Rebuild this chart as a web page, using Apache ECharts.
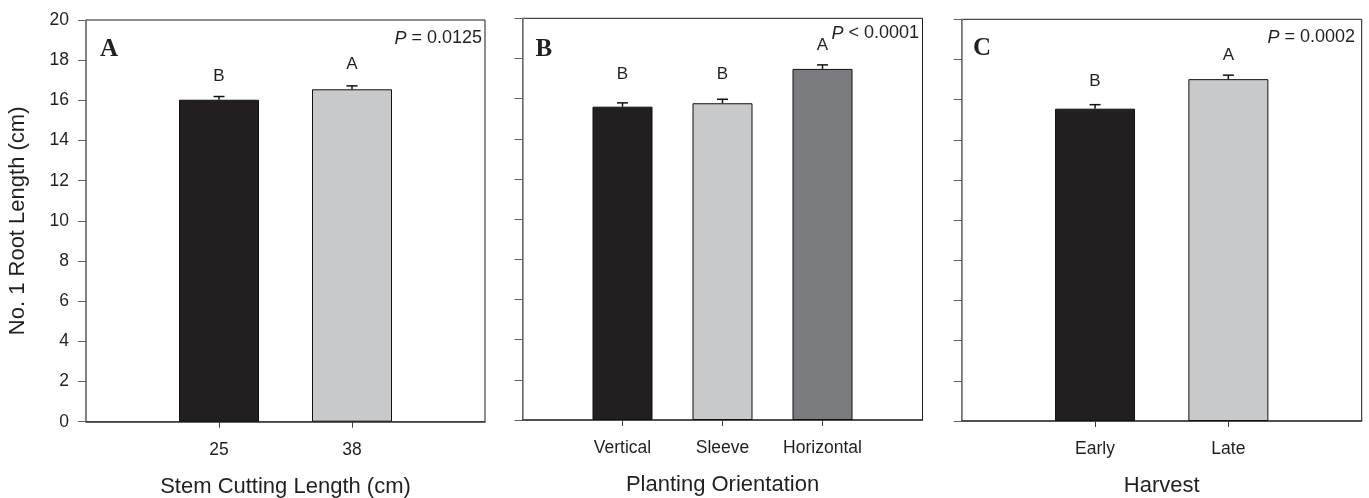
<!DOCTYPE html>
<html>
<head>
<meta charset="utf-8">
<script src="https://cdn.jsdelivr.net/npm/echarts@6/dist/echarts.min.js"></script>
<style>
html,body{margin:0;padding:0;background:#fff;}
#main{width:1369px;height:498px;}
</style>
</head>
<body>
<div id="main"></div>
<script>
// ---- Data ----
var catsA = ['25', '38'];
var valsA = [16.03, 16.55];
var seA = [0.16, 0.17];
var letA = ['B', 'A'];
var letYA = [17.22, 17.77];   // height of significance letters (axis units)

var catsB = ['Vertical', 'Sleeve', 'Horizontal'];
var valsB = [15.60, 15.77, 17.48];
var seB = [0.19, 0.20, 0.20];
var letB = ['B', 'B', 'A'];
var letYB = [17.23, 17.23, 18.65];

var catsC = ['Early', 'Late'];
var valsC = [15.55, 17.02];
var seC = [0.20, 0.20];
var letC = ['B', 'A'];
var letYC = [16.9, 18.19];

var yTicks = { min: 0, max: 20, interval: 2 };
var xTitles = ['Stem Cutting Length (cm)', 'Planting Orientation', 'Harvest'];
var yTitle = 'No. 1 Root Length (cm)';
var panelLetters = ['A', 'B', 'C'];
var pTexts = [['=', '0.0125'], ['<', '0.0001'], ['=', '0.0002']];

var barColors = [
  ['#231f20', '#c8c9cb'],
  ['#231f20', '#c8c9cb', '#7b7c80'],
  ['#231f20', '#c8c9cb']
];

// ---- Build ----
var FONT = 'Liberation Sans, Arial, sans-serif';
var panels = [
  { cats: catsA, vals: valsA, se: seA, let: letA, letY: letYA, grid: { left: 86, top: 20, width: 399, bottom: 76.3 }, barW: 80 },
  { cats: catsB, vals: valsB, se: seB, let: letB, letY: letYB, grid: { left: 522.5, top: 18.3, width: 400, bottom: 78 }, barW: 60 },
  { cats: catsC, vals: valsC, se: seC, let: letC, letY: letYC, grid: { left: 961.7, top: 19.3, width: 400, bottom: 77 }, barW: 80 }
];

var grids = [], xAxes = [], yAxes = [], series = [], graphics = [];

panels.forEach(function (p, k) {
  var n = p.cats.length;
  grids.push(Object.assign({ show: true, borderColor: '#1a1a1a', borderWidth: 1, backgroundColor: 'transparent',
    containLabel: false, outerBoundsMode: 'none' }, p.grid));
  var padded = [''].concat(p.cats).concat(['']);
  xAxes.push({
    type: 'category', gridIndex: k, data: padded, boundaryGap: false,
    axisLine: { show: true, lineStyle: { color: '#3c3c3c', width: 1.5 } },
    axisTick: { show: true, length: 6, lineStyle: { color: '#3c3c3c', width: 1 },
      interval: function (idx) { return idx > 0 && idx < n + 1; } },
    axisLabel: { show: true, interval: 0, margin: 19, color: '#231f20', fontSize: 17.5, fontFamily: FONT },
    splitLine: { show: false },
    name: xTitles[k], nameLocation: 'middle', nameGap: 54,
    nameTextStyle: { color: '#231f20', fontSize: 22, fontFamily: FONT }
  });
  yAxes.push({
    type: 'value', gridIndex: k, min: yTicks.min, max: yTicks.max, interval: yTicks.interval,
    axisLine: { show: true, lineStyle: { color: '#808080', width: 1.5 } },
    axisTick: { show: true, length: 8, inside: false, lineStyle: { color: '#606060', width: 1 } },
    axisLabel: { show: k === 0, margin: 17, color: '#231f20', fontSize: 17.5, fontFamily: FONT },
    splitLine: { show: false },
    name: k === 0 ? yTitle : '', nameLocation: 'middle', nameGap: 57,
    nameTextStyle: { color: '#231f20', fontSize: 22, fontFamily: FONT }
  });
  var barData = [null];
  p.vals.forEach(function (v, i) {
    barData.push({ value: v, itemStyle: { color: barColors[k][i] } });
  });
  barData.push(null);
  series.push({
    type: 'bar', xAxisIndex: k, yAxisIndex: k, data: barData, barWidth: p.barW,
    itemStyle: { borderColor: '#111', borderWidth: 1 }, silent: true, animation: false
  });
  var errData = p.vals.map(function (v, i) { return [i + 1, v, p.se[i], p.letY[i]]; });
  var letters = p.let;
  series.push({
    type: 'custom', xAxisIndex: k, yAxisIndex: k, data: errData, animation: false, silent: true,
    renderItem: function (params, api) {
      var x = api.value(0), v = api.value(1), s = api.value(2), ly = api.value(3);
      var base = api.coord([x, v]);
      var top = api.coord([x, v + s]);
      var lp = api.coord([x, ly]);
      var hw = 5.5;
      return {
        type: 'group',
        children: [
          { type: 'line', shape: { x1: base[0], y1: base[1], x2: top[0], y2: top[1] }, style: { stroke: '#111', lineWidth: 1.5 } },
          { type: 'line', shape: { x1: top[0] - hw, y1: top[1], x2: top[0] + hw, y2: top[1] }, style: { stroke: '#111', lineWidth: 1.5 } },
          { type: 'text', x: lp[0], y: lp[1],
            style: { text: letters[params.dataIndex], fill: '#231f20', fontSize: 17, fontFamily: FONT, align: 'center', verticalAlign: 'middle' } }
        ]
      };
    }
  });
});

// panel letters and P-values (annotation text)
var letterPos = [[100, 49.5], [535.5, 49.5], [973, 48.5]];
var pPos = [[482, 39], [919, 34], [1355, 38]];
for (var k = 0; k < 3; k++) {
  graphics.push({
    type: 'text', left: letterPos[k][0], top: letterPos[k][1] - 12.5,
    style: { text: panelLetters[k], fill: '#231f20', font: 'bold 25px "Liberation Serif", "Times New Roman", serif' }
  });
  graphics.push({
    type: 'text', right: 1369 - pPos[k][0], top: pPos[k][1] - 9.5,
    style: {
      text: '{i|P} ' + pTexts[k][0] + ' ' + pTexts[k][1],
      fill: '#231f20', fontSize: 18, fontFamily: FONT,
      rich: { i: { fontStyle: 'italic', fontSize: 18, fontFamily: FONT, fill: '#231f20' } }
    }
  });
}

var chart = echarts.init(document.getElementById('main'), null, { renderer: 'canvas' });
chart.setOption({
  backgroundColor: '#ffffff',
  animation: false,
  grid: grids,
  xAxis: xAxes,
  yAxis: yAxes,
  series: series,
  graphic: graphics
});
</script>
</body>
</html>
